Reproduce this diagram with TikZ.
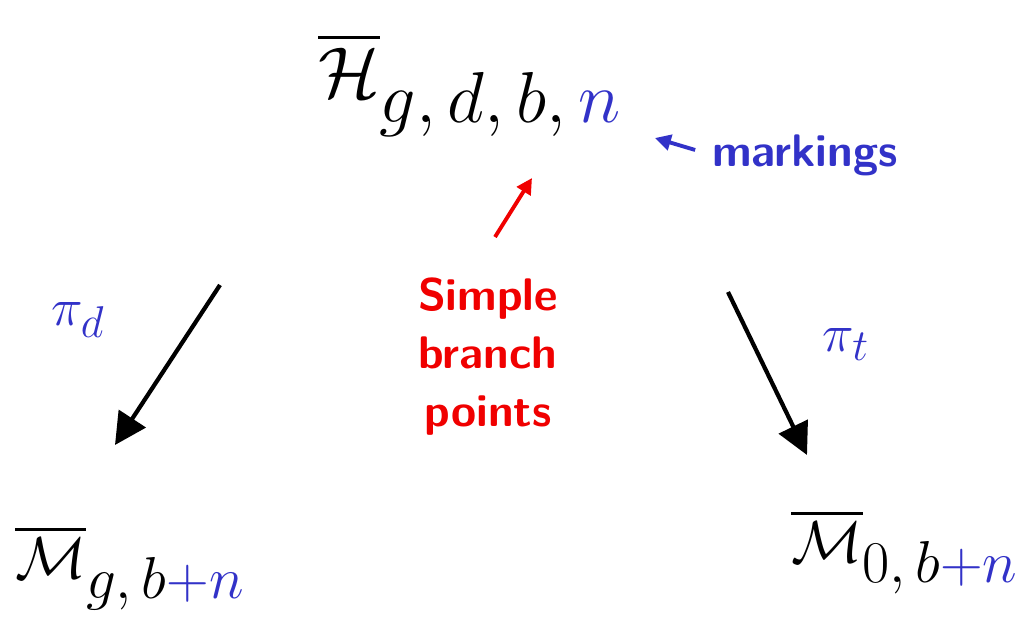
\documentclass[tikz,border=0pt]{standalone}
\usepackage{amsmath}
\usetikzlibrary{arrows.meta}
\definecolor{inkblue}{RGB}{50,50,200}
\definecolor{inkred}{RGB}{240,0,0}
\begin{document}
\begin{tikzpicture}[
  x=0.02cm, y=-0.02cm,
  space/.style={inner sep=0pt, font=\Huge, scale=1.65},
  note/.style={inner sep=0pt, align=center, font=\fontsize{26}{33}\selectfont\sffamily\bfseries},
  map/.style={line width=2.4pt, -{Triangle[length=18pt, width=18pt]}},
  thin map/.style={line width=2.2pt, -{Triangle[length=9pt, width=9pt]}},
]
  \useasboundingbox (0,0) rectangle (1029,641);

  \node[space] (H) at (470,85)
    {$\overline{\mathcal{H}}_{\textstyle g,d,b,\textcolor{inkblue}{n}}$};
  \node[space, scale=0.82] (Mg) at (130,568)
    {$\overline{\mathcal{M}}_{\textstyle g,b\textcolor{inkblue}{+n}}$};
  \node[space, scale=0.82] (M0) at (905,552)
    {$\overline{\mathcal{M}}_{\textstyle 0,b\textcolor{inkblue}{+n}}$};

  \node[note, text=inkblue, anchor=west] (mark) at (712,155) {markings};
  \node[note, text=inkred] (branch) at (488,357) {Simple\\branch\\points};

  \node[space, text=inkblue, scale=0.74] (pid) at (78,320) {$\pi_d$};
  \node[space, text=inkblue, scale=0.74] (pit) at (846,345) {$\pi_t$};

  \coordinate (dstart) at (220,285);
  \coordinate (dend) at (115,445);
  \coordinate (tstart) at (728,292);
  \coordinate (tend) at (807,455);
  \coordinate (mtip) at (655,138);
  \coordinate (btip) at (532,178);
  \coordinate (bstart) at (495,237);

  \draw[map] (dstart) -- (dend);
  \draw[map] (tstart) -- (tend);
  \draw[thin map, inkblue, shorten <=10pt] (mark.west) -- (mtip);
  \draw[thin map, inkred] (bstart) -- (btip);
\end{tikzpicture}
\end{document}
